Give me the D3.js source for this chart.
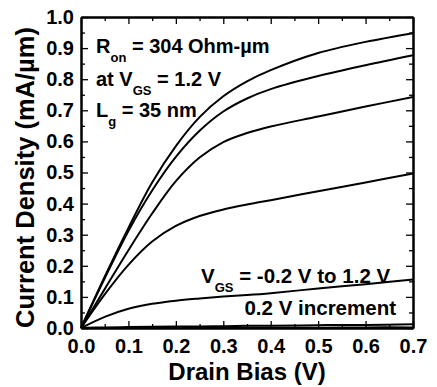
<!DOCTYPE html>
<html>
<head>
<meta charset="utf-8">
<script src="https://cdn.jsdelivr.net/npm/d3@7"></script>
<style>
  html, body { margin: 0; padding: 0; background: #fff; }
  svg { display: block; }
  text { font-family: "Liberation Sans", Arial, Helvetica, sans-serif; font-weight: bold; fill: #000; }
</style>
</head>
<body>
<svg id="chart" width="437" height="387"></svg>
<script>
// ---- data ----
const drainBias = [0, 0.05, 0.1, 0.15, 0.2, 0.25, 0.3, 0.35, 0.4, 0.5, 0.6, 0.7];
const vgsValues = ["1.2", "1.0", "0.8", "0.6", "0.4", "0.2", "0.0", "-0.2"];
const idVgs12  = [0, 0.165, 0.322, 0.468, 0.585, 0.678, 0.745, 0.793, 0.829, 0.884, 0.920, 0.948];
const idVgs10  = [0, 0.160, 0.312, 0.442, 0.550, 0.634, 0.696, 0.738, 0.768, 0.810, 0.845, 0.877];
const idVgs08  = [0, 0.125, 0.250, 0.368, 0.472, 0.548, 0.598, 0.627, 0.648, 0.680, 0.712, 0.743];
const idVgs06  = [0, 0.108, 0.203, 0.278, 0.328, 0.360, 0.381, 0.397, 0.411, 0.440, 0.468, 0.497];
const idVgs04  = [0, 0.036, 0.062, 0.078, 0.088, 0.095, 0.101, 0.106, 0.112, 0.127, 0.141, 0.156];
const idVgs02  = [0, 0.002, 0.003, 0.004, 0.005, 0.005, 0.006, 0.007, 0.007, 0.009, 0.010, 0.012];
const idVgs00  = [0, 0.000, 0.000, 0.001, 0.001, 0.001, 0.001, 0.001, 0.001, 0.001, 0.002, 0.002];
const idVgsM02 = [0, 0.000, 0.000, 0.000, 0.000, 0.000, 0.000, 0.000, 0.000, 0.000, 0.000, 0.000];
const seriesValues = [idVgs12, idVgs10, idVgs08, idVgs06, idVgs04, idVgs02, idVgs00, idVgsM02];
const xTicks = [0, 0.1, 0.2, 0.3, 0.4, 0.5, 0.6, 0.7];
const yTicks = [0, 0.1, 0.2, 0.3, 0.4, 0.5, 0.6, 0.7, 0.8, 0.9, 1.0];
const xMinorTicks = [0.05, 0.15, 0.25, 0.35, 0.45, 0.55, 0.65];
const yMinorTicks = [0.05, 0.15, 0.25, 0.35, 0.45, 0.55, 0.65, 0.75, 0.85, 0.95];

// ---- layout ----
const L = 81, R = 413, T = 17, B = 328;
const svg = d3.select("#chart");
const x = d3.scaleLinear().domain([0, 0.7]).range([L, R]);
const y = d3.scaleLinear().domain([0, 1.0]).range([B, T]);
const MAJ = 7, MIN = 4;

function styleAxis(g) {
  g.select(".domain").attr("stroke", "#000").attr("stroke-width", 2);
  g.selectAll(".tick line").attr("stroke", "#000").attr("stroke-width", 1.3);
}
function styleLabels(g) {
  g.selectAll("text").attr("font-size", 20)
    .attr("font-family", "Liberation Sans, Arial, sans-serif").attr("font-weight", "bold");
}

// bottom
svg.append("g").attr("transform", `translate(0,${B})`)
  .call(d3.axisBottom(x).tickValues(xTicks).tickFormat(d3.format(".1f")).tickSizeInner(-MAJ).tickSizeOuter(0).tickPadding(11))
  .call(styleAxis).call(styleLabels);
svg.append("g").attr("transform", `translate(0,${B})`)
  .call(d3.axisBottom(x).tickValues(xMinorTicks).tickFormat("").tickSizeInner(-MIN).tickSizeOuter(0))
  .call(styleAxis);
// top
svg.append("g").attr("transform", `translate(0,${T})`)
  .call(d3.axisTop(x).tickValues(xTicks).tickFormat("").tickSizeInner(-MAJ).tickSizeOuter(0))
  .call(styleAxis);
svg.append("g").attr("transform", `translate(0,${T})`)
  .call(d3.axisTop(x).tickValues(xMinorTicks).tickFormat("").tickSizeInner(-MIN).tickSizeOuter(0))
  .call(styleAxis);
// left
svg.append("g").attr("transform", `translate(${L},0)`)
  .call(d3.axisLeft(y).tickValues(yTicks).tickFormat(d3.format(".1f")).tickSizeInner(-MAJ).tickSizeOuter(0).tickPadding(7))
  .call(styleAxis).call(styleLabels);
svg.append("g").attr("transform", `translate(${L},0)`)
  .call(d3.axisLeft(y).tickValues(yMinorTicks).tickFormat("").tickSizeInner(-MIN).tickSizeOuter(0))
  .call(styleAxis);
// right
svg.append("g").attr("transform", `translate(${R},0)`)
  .call(d3.axisRight(y).tickValues(yTicks).tickFormat("").tickSizeInner(-MAJ).tickSizeOuter(0))
  .call(styleAxis);
svg.append("g").attr("transform", `translate(${R},0)`)
  .call(d3.axisRight(y).tickValues(yMinorTicks).tickFormat("").tickSizeInner(-MIN).tickSizeOuter(0))
  .call(styleAxis);

// curves
const line = d3.line()
  .x((d, i) => x(drainBias[i]))
  .y(d => y(d))
  .curve(d3.curveCatmullRom.alpha(0.5));
svg.append("g").selectAll("path")
  .data(seriesValues)
  .join("path")
  .attr("d", d => line(d))
  .attr("fill", "none")
  .attr("stroke", "#000")
  .attr("stroke-width", 2);

// axis titles
svg.append("text")
  .attr("x", (L + R) / 2).attr("y", 380)
  .attr("text-anchor", "middle").attr("font-size", 24)
  .text("Drain Bias (V)");
svg.append("text")
  .attr("transform", `translate(34,${(T + B) / 2 + 5}) rotate(-90)`)
  .attr("text-anchor", "middle").attr("font-size", 25.5)
  .text("Current Density (mA/µm)");

// annotations
function subText(xp, yp, parts, size) {
  const t = svg.append("text").attr("x", xp).attr("y", yp).attr("font-size", size);
  parts.forEach(p => {
    const s = t.append("tspan").text(p.t);
    if (p.sub) s.attr("font-size", 13).attr("dy", 9);
    else if (p.after) s.attr("dy", -9);
  });
  return t;
}
subText(96, 52.5, [{t: "R"}, {t: "on", sub: true}, {t: " = 304 Ohm-µm", after: true}], 20);
subText(96, 86, [{t: "at V"}, {t: "GS", sub: true}, {t: " = 1.2 V", after: true}], 20);
subText(96, 116.5, [{t: "L"}, {t: "g", sub: true}, {t: " = 35 nm", after: true}], 20);
subText(201, 283, [{t: "V"}, {t: "GS", sub: true}, {t: " = -0.2 V to 1.2 V", after: true}], 20.5);
svg.append("text").attr("x", 396).attr("y", 315).attr("text-anchor", "end").attr("font-size", 20.5)
  .text("0.2 V increment");
</script>
</body>
</html>
